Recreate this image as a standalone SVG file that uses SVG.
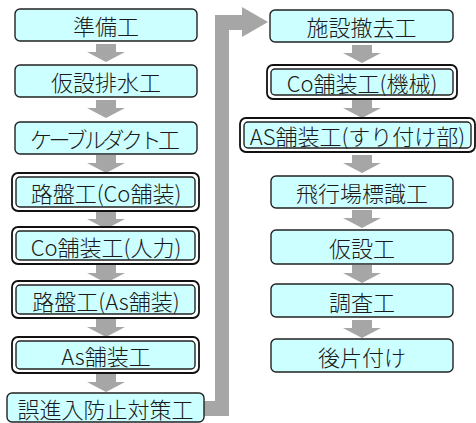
<svg xmlns="http://www.w3.org/2000/svg" width="476" height="423" viewBox="0 0 476 423">
<style>
.b{fill:#ccffff;stroke:#222;stroke-width:1.4}
.o{fill:#fff;stroke:#111;stroke-width:1.8}
.i{fill:#ccffff;stroke:#222;stroke-width:1.4}
.t{font-family:"Noto Sans CJK JP","Noto Sans",sans-serif;font-size:22px;font-weight:300;fill:#1a1a1a;text-anchor:middle;dominant-baseline:central}
.a{fill:#a6a6a6}
</style>
<defs>
<path id="arr" d="M-10,0 h20 v8 h9 l-19,10 l-19,-10 h9 z"/>
</defs>
<rect width="476" height="423" fill="#fff"/>
<g id="connectors" class="a">
<use href="#arr" x="106" y="44"/>
<use href="#arr" x="106" y="100"/>
<use href="#arr" x="106" y="155"/>
<use href="#arr" x="106" y="211"/>
<use href="#arr" x="106" y="265"/>
<use href="#arr" x="106" y="319"/>
<use href="#arr" x="106" y="374"/>
<path d="M204,401 H215 V15 H242 V7 L268,22 L242,37 V30 H229 V416 H204 Z"/>
<use href="#arr" x="362" y="45"/>
<use href="#arr" x="362" y="100"/>
<use href="#arr" x="362" y="155"/>
<use href="#arr" x="362" y="210"/>
<use href="#arr" x="362" y="265"/>
<use href="#arr" x="362" y="320"/>
</g>
<g id="n1"><rect class="b" x="15" y="9" width="182" height="32" rx="5"/><text class="t" x="106" y="25">準備工</text></g>
<g id="n2"><rect class="b" x="15" y="65" width="182" height="32" rx="5"/><text class="t" x="106" y="81">仮設排水工</text></g>
<g id="n3"><rect class="b" x="15" y="122" width="182" height="32" rx="5"/><text class="t" x="105" y="138" textLength="150" lengthAdjust="spacing">ケーブルダクト工</text></g>
<g id="n4"><rect class="o" x="12" y="173" width="187" height="38" rx="6"/><rect class="i" x="16" y="177" width="179" height="30" rx="4"/><text class="t" x="106" y="192">路盤工(Co舗装)</text></g>
<g id="n5"><rect class="o" x="12" y="227" width="187" height="37" rx="6"/><rect class="i" x="16" y="231" width="179" height="29" rx="4"/><text class="t" x="106" y="245.5">Co舗装工(人力)</text></g>
<g id="n6"><rect class="o" x="12" y="281" width="187" height="37" rx="6"/><rect class="i" x="16" y="285" width="179" height="29" rx="4"/><text class="t" x="106" y="299.5">路盤工(As舗装)</text></g>
<g id="n7"><rect class="o" x="12" y="337" width="187" height="36" rx="6"/><rect class="i" x="16" y="341" width="179" height="28" rx="4"/><text class="t" x="106" y="355">As舗装工</text></g>
<g id="n8"><rect class="b" x="7" y="393" width="197" height="29" rx="5"/><text class="t" x="105.5" y="408">誤進入防止対策工</text></g>
<g id="r1"><rect class="b" x="270" y="10" width="183" height="32" rx="5"/><text class="t" x="361.5" y="26">施設撤去工</text></g>
<g id="r2"><rect class="o" x="267" y="65" width="190" height="34" rx="6"/><rect class="i" x="271" y="69" width="182" height="26" rx="4"/><text class="t" x="362" y="82">Co舗装工(機械)</text></g>
<g id="r3"><rect class="o" x="240" y="118" width="235" height="34" rx="6"/><rect class="i" x="244" y="122" width="227" height="26" rx="4"/><text class="t" x="357.5" y="135">AS舗装工(すり付け部)</text></g>
<g id="r4"><rect class="b" x="271" y="176" width="182" height="32" rx="5"/><text class="t" x="362" y="192">飛行場標識工</text></g>
<g id="r5"><rect class="b" x="271" y="230" width="182" height="34" rx="5"/><text class="t" x="362" y="247">仮設工</text></g>
<g id="r6"><rect class="b" x="271" y="284" width="182" height="33" rx="5"/><text class="t" x="362" y="300.5">調査工</text></g>
<g id="r7"><rect class="b" x="271" y="339" width="182" height="33" rx="5"/><text class="t" x="362" y="355.5">後片付け</text></g>
</svg>
